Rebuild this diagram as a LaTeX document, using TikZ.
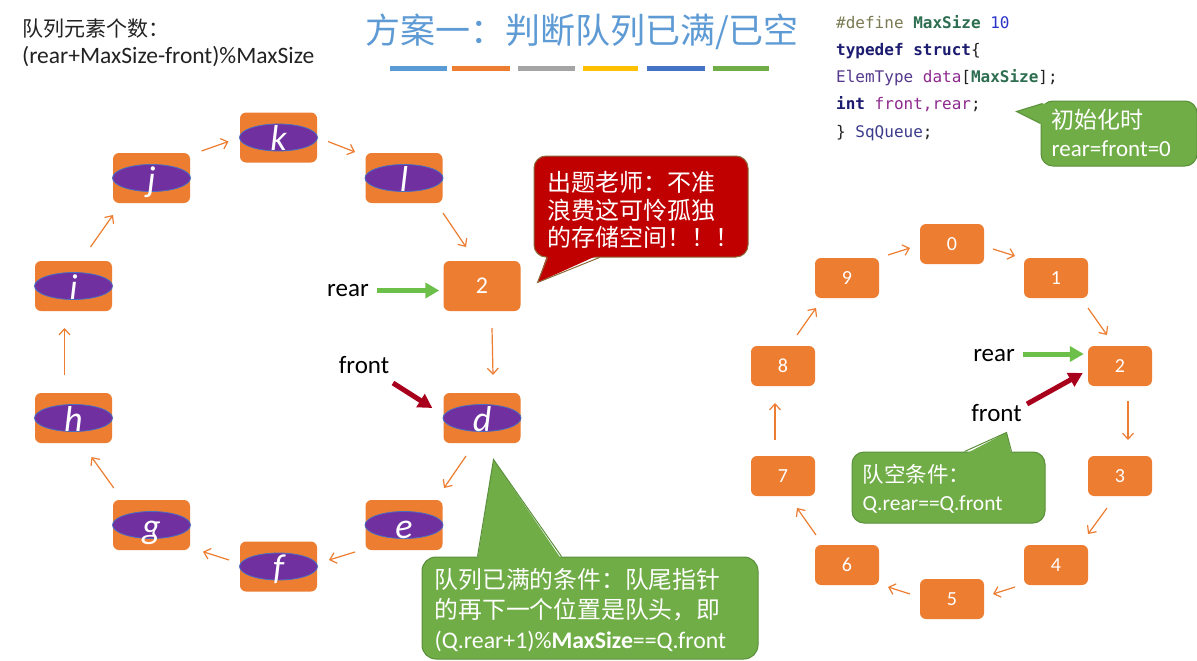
\documentclass[tikz,border=0pt]{standalone}
\usepackage{fontspec}
\setmainfont{Carlito}
\setmonofont{DejaVu Sans Mono}
\newfontfamily\cjk{Noto Sans CJK SC}
\usetikzlibrary{arrows.meta,shapes.geometric}

\definecolor{cellorange}{HTML}{ED7D31}
\definecolor{cellpurple}{HTML}{7030A0}
\definecolor{rimblue}{HTML}{4A6FC0}
\definecolor{notegreen}{HTML}{70AD47}
\definecolor{notegreenrim}{HTML}{5A8F3A}
\definecolor{warnred}{HTML}{C00000}
\definecolor{warnrim}{HTML}{8A6B3A}
\definecolor{rearcol}{HTML}{6CC04A}
\definecolor{frontcol}{HTML}{A8001C}
\definecolor{titleblue}{HTML}{5E9BD5}
\definecolor{barA}{HTML}{5B9BD5}
\definecolor{barB}{HTML}{ED7D31}
\definecolor{barC}{HTML}{A5A5A5}
\definecolor{barD}{HTML}{FFC000}
\definecolor{barE}{HTML}{4472C4}
\definecolor{barF}{HTML}{70AD47}
\definecolor{inktext}{HTML}{222222}
\definecolor{kwgray}{HTML}{7A7A52}
\definecolor{macgreen}{HTML}{2E6E50}
\definecolor{numblue}{HTML}{2B35C8}
\definecolor{kwnavy}{HTML}{1C1C70}
\definecolor{typepurple}{HTML}{553A8E}
\definecolor{fieldmag}{HTML}{8E2A8E}
\definecolor{typename}{HTML}{3C3C8C}

\newcommand\fs[1]{\fontsize{#1}{#1}\selectfont}
\newcommand\lead[2]{\fontsize{#1}{#2}\selectfont}
\newcommand\topstrut[1]{\rule{0pt}{#1pt}}

% one ring slot holding an element: orange box, purple oval, italic letter
\newcommand\lettercell[4]{%
  \node[bigcell] (#1) at (#2,#3) {};
  \node[oval] (#1o) at (#1) {};
  \node[letter] (#1t) at ([yshift=-13pt]#1.center) {#4};
}

\tikzset{
  bigcell/.style={rectangle, rounded corners=6pt, fill=cellorange,
    minimum width=77pt, minimum height=50pt, inner sep=0pt,
    text=white, font=\fs{24}},
  smallcell/.style={rectangle, rounded corners=6pt, fill=cellorange,
    minimum width=64pt, minimum height=40pt, inner sep=0pt,
    text=white, font=\fs{20}},
  oval/.style={ellipse, fill=cellpurple, draw=rimblue, line width=0.8pt,
    minimum width=78pt, minimum height=27pt, inner sep=0pt},
  letter/.style={text=white, font=\itshape\fs{36}, inner sep=0pt, anchor=base},
  ringarrow/.style={draw=cellorange, line width=1.2pt,
    -{Straight Barb[length=6pt,width=11pt]}},
  rearptr/.style={draw=rearcol, line width=5pt,
    -{Triangle[length=14pt,width=15pt]}},
  frontptr/.style={draw=frontcol, line width=5pt,
    -{Triangle[length=14pt,width=15pt]}},
  ptrlabel/.style={font=\fs{25}, text=black, inner sep=0pt},
  codeline/.style={anchor=base west, inner sep=0pt, font=\ttfamily\fs{16},
    text=inktext},
  notebox/.style={rectangle, rounded corners=12pt, fill=notegreen,
    draw=notegreenrim, line width=1pt, inner sep=0pt},
  warnbox/.style={rectangle, rounded corners=12pt, fill=warnred,
    draw=warnrim, line width=1pt, inner sep=0pt},
  notetext/.style={anchor=north west, inner sep=0pt, align=left, text=white},
}

\begin{document}
\begin{tikzpicture}[x=1pt,y=-1pt]
\useasboundingbox (0,0) rectangle (1197,661);
\fill[white] (0,0) rectangle (1197,661);

% ---- heading and colour strip ----
\node[font=\cjk\fs{35}, text=titleblue, inner sep=0pt] (title) at (582,32)
  {方案一：判断队列已满/已空};
\foreach \x/\w/\c in {390/57/barA, 452/58/barB, 518/57/barC,
                      583/55/barD, 647/58/barE, 713/56/barF}
  \fill[\c] (\x,66) rectangle ++(\w,5);

% ---- element count formula ----
\node[anchor=base west, inner sep=0pt, font=\cjk\fs{21}, text=inktext]
  (cnt) at (22,37) {队列元素个数：};
\node[anchor=base west, inner sep=0pt, font=\fs{23.5}, text=inktext]
  (cntf) at (22,64) {(rear+MaxSize-front)\%MaxSize};

% ---- type definition ----
\node[codeline] (code1) at (836,29)
  {{\color{kwgray}\#define} {\bfseries\color{macgreen}MaxSize} {\color{numblue}10}};
\node[codeline] (code2) at (836,56)
  {{\bfseries\color{kwnavy}typedef struct}\{};
\node[codeline] (code3) at (836,83)
  {{\color{typepurple}ElemType} {\color{fieldmag}data}[{\bfseries\color{macgreen}MaxSize}];};
\node[codeline] (code4) at (836,110)
  {{\bfseries\color{kwnavy}int} {\color{fieldmag}front,rear};};
\node[codeline] (code5) at (836,137)
  {\} {\color{typename}SqQueue};};

% ---- full queue (left ring) ----
\lettercell{cj}{151.5}{178}{j}
\lettercell{ck}{278.5}{137.5}{k}
\lettercell{cl}{404}{178}{l}
\node[bigcell] (c2) at (482,286) {2};
\lettercell{cd}{482}{418}{d}
\lettercell{ce}{404}{525}{e}
\lettercell{cf}{278.5}{566.5}{f}
\lettercell{cg}{151.5}{525}{g}
\lettercell{ch}{73.5}{418}{h}
\lettercell{ci}{73.5}{286}{i}

\draw[ringarrow] ([shift={(-9,-43)}]ch.center) -- ([shift={(-9,42)}]ci.center);
\draw[ringarrow] ([shift={(17,-39)}]ci.center) -- ([shift={(-38.5,37)}]cj.center);
\draw[ringarrow] ([shift={(50,-27)}]cj.center) -- ([shift={(-50,4)}]ck.center);
\draw[ringarrow] ([shift={(49.5,4)}]ck.center) -- ([shift={(-49,-26)}]cl.center);
\draw[ringarrow] ([shift={(39,35)}]cl.center) -- ([shift={(-16,-39)}]c2.center);
\draw[ringarrow] ([shift={(10,42)}]c2.center) -- ([shift={(11,-43)}]cd.center);
\draw[ringarrow] ([shift={(-16,38)}]cd.center) -- ([shift={(40,-37)}]ce.center);
\draw[ringarrow] ([shift={(-49,27)}]ce.center) -- ([shift={(50.5,-6.5)}]cf.center);
\draw[ringarrow] ([shift={(-49.5,-6.5)}]cf.center) -- ([shift={(51.5,26.7)}]cg.center);
\draw[ringarrow] ([shift={(-37.7,-37)}]cg.center) -- ([shift={(18,39)}]ch.center);

\node[ptrlabel] (rearL) at (348,290.5) {rear};
\draw[rearptr] ([xshift=8pt]rearL.east) -- ([xshift=-4pt]rearL.east -| c2.west);
\node[ptrlabel] (frontL) at (364,365) {front};
\draw[frontptr] ([shift={(29,18)}]frontL.center) -- ([shift={(-11,-10)}]cd.west);

% ---- empty queue (right ring) ----
\node[smallcell] (r0) at (952,244) {0};
\node[smallcell] (r1) at (1056,278) {1};
\node[smallcell] (r2) at (1120,366) {2};
\node[smallcell] (r3) at (1120,476) {3};
\node[smallcell] (r4) at (1056,565) {4};
\node[smallcell] (r5) at (952,599) {5};
\node[smallcell] (r6) at (847,565) {6};
\node[smallcell] (r7) at (783,476) {7};
\node[smallcell] (r8) at (783,366) {8};
\node[smallcell] (r9) at (847,278) {9};

\draw[ringarrow] ([shift={(41,-23)}]r9.center) -- ([shift={(-42,4)}]r0.center);
\draw[ringarrow] ([shift={(41,5)}]r0.center) -- ([shift={(-41,-22)}]r1.center);
\draw[ringarrow] ([shift={(32,30)}]r1.center) -- ([shift={(-13,-31)}]r2.center);
\draw[ringarrow] ([shift={(8,35)}]r2.center) -- ([shift={(8,-36)}]r3.center);
\draw[ringarrow] ([shift={(-13,32)}]r3.center) -- ([shift={(32,-31)}]r4.center);
\draw[ringarrow] ([shift={(-41,22)}]r4.center) -- ([shift={(41,-5)}]r5.center);
\draw[ringarrow] ([shift={(-42,-5)}]r5.center) -- ([shift={(41,22)}]r6.center);
\draw[ringarrow] ([shift={(-31,-30)}]r6.center) -- ([shift={(14,32)}]r7.center);
\draw[ringarrow] ([shift={(-8,-36)}]r7.center) -- ([shift={(-8,37)}]r8.center);
\draw[ringarrow] ([shift={(14,-31)}]r8.center) -- ([shift={(-31,30)}]r9.center);

\node[ptrlabel] (rearR) at (994,356) {rear};
\draw[rearptr] ([shift={(8,-2)}]rearR.east) -- ([shift={(-4,-12)}]r2.west);
\node[ptrlabel] (frontR) at (996.5,413) {front};
\draw[frontptr] ([shift={(30.5,-9)}]frontR.center) -- ([shift={(-5,7)}]r2.west);

% ---- red remark ----
\node[warnbox, minimum width=214pt, minimum height=101pt] (warn) at (641,206.5) {};
\fill[warnred] ([shift={(14,-3)}]warn.south west) -- ([shift={(4,25)}]warn.south west)
  -- ([shift={(66,-3)}]warn.south west) -- cycle;
\draw[warnrim, line width=1pt] ([shift={(14,0)}]warn.south west)
  -- ([shift={(4,25)}]warn.south west) -- ([shift={(66,0)}]warn.south west);
\node[notetext, font=\cjk\lead{24}{27.5}] (warntext) at ([shift={(14,14)}]warn.north west)
  {\topstrut{22}出题老师：不准\\浪费这可怜孤独\\的存储空间！！！};

% ---- full condition remark ----
\node[notebox, rounded corners=14pt, minimum width=336pt, minimum height=102pt] (fullnote) at (590,608) {};
\fill[notegreen] ([shift={(56,3)}]fullnote.north west) -- ([shift={(72,-97)}]fullnote.north west)
  -- ([shift={(140,3)}]fullnote.north west) -- cycle;
\draw[notegreenrim, line width=1pt] ([shift={(56,0)}]fullnote.north west)
  -- ([shift={(72,-97)}]fullnote.north west) -- ([shift={(140,0)}]fullnote.north west);
\node[notetext, font=\lead{23.8}{30}] (fulltext) at ([shift={(13,10)}]fullnote.north west)
  {\topstrut{22}{\cjk 队列已满的条件：队尾指针}\\{\cjk 的再下一个位置是队头，即}\\(Q.rear+1)\%\textbf{MaxSize}==Q.front};

% ---- initial state remark ----
\node[notebox, minimum width=156pt, minimum height=65pt] (initnote) at (1119,133.5) {};
\fill[notegreen] ([shift={(2,3)}]initnote.north west) -- ([shift={(-24,11)}]initnote.north west)
  -- ([shift={(0,23)}]initnote.north west) -- ([shift={(4,23)}]initnote.north west)
  -- ([shift={(6,3)}]initnote.north west) -- cycle;
\draw[notegreenrim, line width=1pt] ([shift={(2,3)}]initnote.north west)
  -- ([shift={(-24,11)}]initnote.north west) -- ([shift={(0,23)}]initnote.north west);
\node[notetext, font=\lead{23}{28}] (inittext) at ([shift={(11,7)}]initnote.north west)
  {\topstrut{21}{\cjk 初始化时}\\rear=front=0};

% ---- empty condition remark ----
\node[notebox, minimum width=193pt, minimum height=71pt] (emptynote) at (948.5,487.5) {};
\fill[notegreen] ([shift={(113,3)}]emptynote.north west) -- ([shift={(155,-19)}]emptynote.north west)
  -- ([shift={(160,3)}]emptynote.north west) -- cycle;
\draw[notegreenrim, line width=1pt] ([shift={(113,0)}]emptynote.north west)
  -- ([shift={(155,-19)}]emptynote.north west) -- ([shift={(160,0)}]emptynote.north west);
\node[notetext, font=\lead{21.5}{27.5}] (emptytext) at ([shift={(11,11)}]emptynote.north west)
  {\topstrut{20}{\cjk 队空条件：}\\Q.rear==Q.front};
\end{tikzpicture}
\end{document}
